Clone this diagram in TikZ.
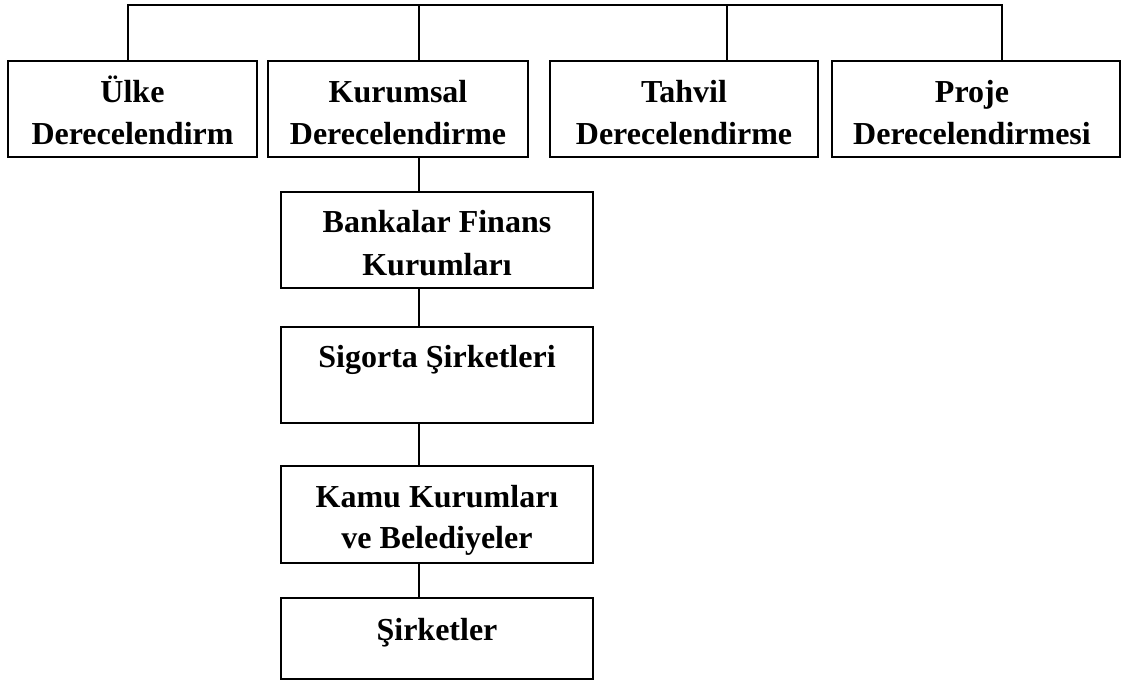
\documentclass[tikz,border=0pt]{standalone}
\usepackage{fontspec}
\setmainfont{Liberation Serif}
\begin{document}
\begin{tikzpicture}[x=1pt,y=-1pt,
  box/.style={draw,line width=2pt,rectangle,inner sep=0pt,outer sep=0pt,minimum height=96pt},
  lbl/.style={anchor=base,align=center,inner sep=0pt,font=\bfseries\fontsize{32}{42}\selectfont},
  conn/.style={line width=2pt}]
\useasboundingbox (0,0) rectangle (1129,681);
% top row boxes
\node[box,minimum width=249pt] (b1) at (132.5,109) {};
\node[box,minimum width=260pt] (b2) at (398,109) {};
\node[box,minimum width=268pt] (b3) at (684,109) {};
\node[box,minimum width=288pt] (b4) at (976,108.5) {};
% lower column
\node[box,minimum width=312pt] (b5) at (437,240) {};
\node[box,minimum width=312pt] (b6) at (437,375) {};
\node[box,minimum width=312pt,minimum height=97pt] (b7) at (437,514.5) {};
\node[box,minimum width=312pt,minimum height=81pt] (b8) at (437,638.5) {};
% labels (base anchor = baseline of last line)
\node[lbl] (t1) at (132.5,144) {Ülke\\Derecelendirm};
\node[lbl] (t2) at (398,144) {Kurumsal\\Derecelendirme};
\node[lbl] (t3) at (684,144) {Tahvil\\Derecelendirme};
\node[lbl] (t4) at (972,144) {Proje\\Derecelendirmesi};
\node[lbl,font=\bfseries\fontsize{32}{43}\selectfont] (t5) at (437,275) {Bankalar Finans\\Kurumları};
\node[lbl] (t6) at (437,367) {Sigorta Şirketleri};
\node[lbl,font=\bfseries\fontsize{32}{41}\selectfont] (t7) at (437,548) {Kamu Kurumları\\ve Belediyeler};
\node[lbl] (t8) at (437,640) {Şirketler};
% connectors
\coordinate (c1) at (128,5);
\coordinate (c2) at (419,5);
\coordinate (c3) at (727,5);
\coordinate (c4) at (1002,5);
\draw[conn] (c1 |- b1.north) -- (c1) -- (c4) -- (c4 |- b4.north);
\draw[conn] (c2) -- (c2 |- b2.north);
\draw[conn] (c3) -- (c3 |- b3.north);
\coordinate (v) at (419,0);
\draw[conn] (v |- b2.south) -- (v |- b5.north);
\draw[conn] (v |- b5.south) -- (v |- b6.north);
\draw[conn] (v |- b6.south) -- (v |- b7.north);
\draw[conn] (v |- b7.south) -- (v |- b8.north);
\end{tikzpicture}
\end{document}
